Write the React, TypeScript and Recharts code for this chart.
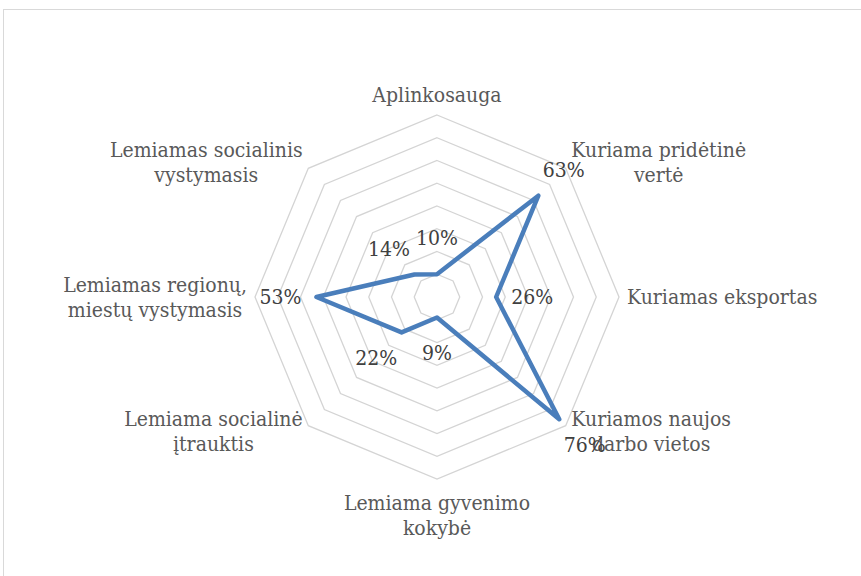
import React from 'react';
import { RadarChart, Radar, PolarGrid, PolarAngleAxis, PolarRadiusAxis, LabelList } from 'recharts';

const categories = [
  'Aplinkosauga',
  'Kuriama pridėtinė vertė',
  'Kuriamas eksportas',
  'Kuriamos naujos darbo vietos',
  'Lemiama gyvenimo kokybė',
  'Lemiama socialinė įtrauktis',
  'Lemiamas regionų, miestų vystymasis',
  'Lemiamas socialinis vystymasis',
];
const values = [10, 63, 26, 76, 9, 22, 53, 14];
const radiusTicks = [0, 10, 20, 30, 40, 50, 60, 70, 80];

const data = categories.map((c, i) => ({ category: c, value: values[i] }));

const W = 861;
const H = 576;
const CX = 437;
const CY = 297;
const R = 182;
const FONT = '"DejaVu Serif Condensed", "DejaVu Serif", serif';
const FS = 21;
const LH = 25;
const MAXW = 205;

let ctx: CanvasRenderingContext2D | null = null;
function measure(t: string): number {
  if (!ctx) {
    const c = document.createElement('canvas');
    ctx = c.getContext('2d');
  }
  if (!ctx) return t.length * 11;
  ctx.font = `condensed ${FS}px ${FONT}`;
  return ctx.measureText(t).width;
}

function wrap(t: string): string[] {
  const words = t.split(' ');
  const lines: string[] = [];
  let cur = '';
  for (const w of words) {
    const cand = cur ? cur + ' ' + w : w;
    if (cur && measure(cand) > MAXW) {
      lines.push(cur);
      cur = w;
    } else cur = cand;
  }
  if (cur) lines.push(cur);
  return lines;
}

const textStyle = { fontFamily: FONT, fontSize: FS, fontStretch: 'condensed' } as React.CSSProperties;

function AxisTick(props: any) {
  const { x, y, payload } = props;
  const lines = wrap(String(payload.value));
  const blockW = Math.max(...lines.map(measure));
  const dx = x - CX;
  const dy = y - CY;
  let tx = x;
  if (dx > 1) tx = x + blockW / 2;
  else if (dx < -1) tx = x - blockW / 2;
  let firstY: number;
  if (Math.abs(dx) <= 1 && dy < 0) firstY = y - 12 - (lines.length - 1) * LH;
  else if (Math.abs(dx) <= 1 && dy > 0) firstY = y + 16;
  else firstY = y - ((lines.length - 1) * LH) / 2;
  return (
    <g>
      {lines.map((l, i) => (
        <text
          key={i}
          x={tx}
          y={firstY + i * LH}
          textAnchor="middle"
          dominantBaseline="central"
          style={textStyle}
          fill="#595959"
        >
          {l}
        </text>
      ))}
    </g>
  );
}

function DataLabel(props: any) {
  const { x, y, value } = props;
  const dx = x - CX;
  const dy = y - CY;
  const len = Math.sqrt(dx * dx + dy * dy) || 1;
  const off = 36;
  return (
    <text
      x={x + (dx / len) * off}
      y={y + (dy / len) * off}
      textAnchor="middle"
      dominantBaseline="central"
      style={textStyle}
      fill="#404040"
    >
      {`${value}%`}
    </text>
  );
}

export default function App() {
  return (
    <div
      style={{
        position: 'absolute',
        left: 0,
        top: 0,
        width: W,
        height: H,
        overflow: 'hidden',
        background: '#ffffff',
        fontFamily: FONT,
      }}
    >
      <div
        style={{
          position: 'absolute',
          left: 3,
          top: 9,
          width: 880,
          height: 600,
          border: '1px solid #d9d9d9',
          boxSizing: 'border-box',
        }}
      />
      <div style={{ position: 'absolute', left: 0, top: 0 }}>
        <RadarChart
          width={W}
          height={H}
          data={data}
          cx={CX}
          cy={CY}
          outerRadius={R}
          margin={{ top: 0, right: 0, bottom: 0, left: 0 }}
        >
          <PolarGrid gridType="polygon" radialLines={false} stroke="#d4d4d4" strokeWidth={1.3} />
          <PolarAngleAxis
            dataKey="category"
            tick={<AxisTick />}
            tickLine={false}
            axisLine={false}
            tickSize={8}
          />
          <PolarRadiusAxis
            domain={[0, 80]}
            ticks={radiusTicks as any}
            tickCount={9}
            tick={false}
            axisLine={false}
          />
          <Radar
            dataKey="value"
            stroke="#4a7ebb"
            strokeWidth={4.5}
            strokeLinejoin="round"
            fill="none"
            fillOpacity={0}
            dot={false}
            isAnimationActive={false}
          >
            <LabelList dataKey="value" content={<DataLabel />} />
          </Radar>
        </RadarChart>
      </div>
    </div>
  );
}
